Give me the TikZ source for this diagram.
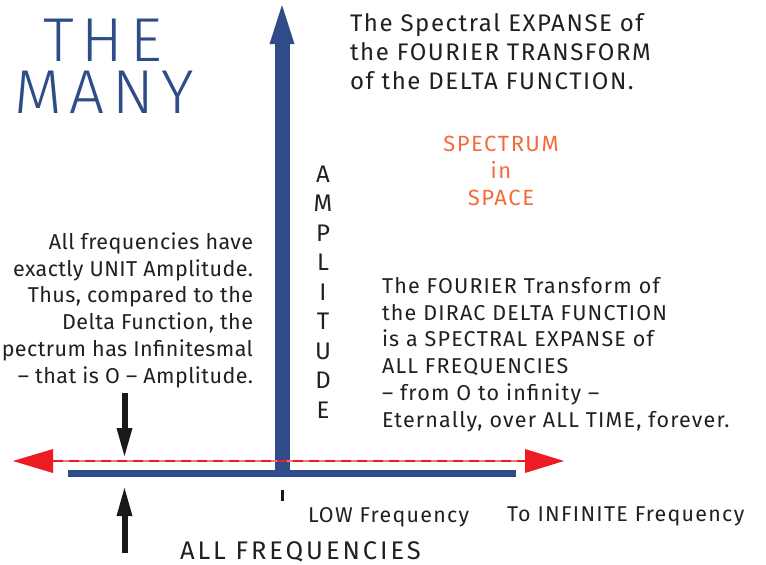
\documentclass[tikz,border=0pt]{standalone}
\usepackage{fontspec}
\setmainfont{Fira Sans}
\newfontfamily\titlefont{Fira Sans}[UprightFont=* Light]
\usetikzlibrary{arrows.meta}
\definecolor{axisblue}{RGB}{46,77,136}
\definecolor{axred}{RGB}{237,28,36}
\definecolor{specorange}{RGB}{242,108,58}
\definecolor{txt}{RGB}{35,31,32}
\newcommand{\trk}[1]{\addfontfeatures{LetterSpace=#1}}
\begin{document}
\begin{tikzpicture}[x=1pt,y=-1pt,
  every node/.style={inner sep=0pt, outer sep=0pt},
  titletext/.style={font=\titlefont\fontsize{62}{62}\selectfont\trk{12}, text=axisblue},
  headtext/.style={font=\fontsize{24}{29}\selectfont\trk{6.5}, text=txt},
  bodytext/.style={font=\fontsize{21.5}{26.7}\selectfont\trk{5.5}, text=txt},
  lefttext/.style={font=\fontsize{21.5}{26.7}\selectfont\trk{2}, text=txt},
  orangetext/.style={font=\fontsize{22}{26.8}\selectfont\trk{7}, text=specorange},
  ampltext/.style={font=\fontsize{24}{29.5}\selectfont, text=txt},
  axistext/.style={font=\fontsize{21.4}{24}\selectfont\trk{6}, text=txt},
  bigtext/.style={font=\fontsize{25.5}{28}\selectfont\trk{11.5}, text=txt},
  bluebar/.style={draw=axisblue, line width=#1},
  blackarrow/.style={draw=black!90, line width=6pt, -{Triangle[width=16pt,length=28pt,line width=0pt]}},
]
\useasboundingbox (0,0) rectangle (766,565);

% axes
\coordinate (ybot) at (282,471);
\coordinate (ytop) at (282,5);
\coordinate (xleft) at (68,473);
\coordinate (xright) at (516,473);
\draw[bluebar=7pt] (xleft) -- (xright);
\draw[bluebar=15pt, -{Triangle[width=25pt,length=39pt,line width=0pt]}] (ybot) -- (ytop);

% red double arrow
\coordinate (rl) at (13,461);
\coordinate (rr) at (564,461);
\coordinate (rdl) at (53,461);
\coordinate (rdr) at (525,461);
\draw[axred!60, line width=1.2pt, {Triangle[width=24pt,length=40pt,line width=0pt,fill=axred]}-{Triangle[width=24pt,length=39pt,line width=0pt,fill=axred]}] (rl) -- (rr);
\draw[axred, line width=2.6pt, dash pattern=on 10pt off 6pt] (rdl) -- (rdr);

% tick
\coordinate (tka) at (282,490);
\coordinate (tkb) at (282,501);
\draw[black!90, line width=3pt] (tka) -- (tkb);

% black arrows
\coordinate (da) at (124.5,393);
\coordinate (db) at (124.5,456);
\coordinate (ua) at (124.5,553);
\coordinate (ub) at (124.5,488);
\draw[blackarrow] (da) -- (db);
\draw[blackarrow] (ua) -- (ub);

% texts
\node[titletext, anchor=base] (the) at (103,61) {THE};
\node[titletext, anchor=base] (many) at (104,113) {MANY};

\node[headtext, anchor=base west, align=left] (expanse) at (350,89)
  {The Spectral EXPANSE of\\the FOURIER TRANSFORM\\of the DELTA FUNCTION.};

\node[orangetext, anchor=base, align=center] (space) at (501,205)
  {SPECTRUM\\in\\SPACE};

\node[ampltext, anchor=base, align=center] (ampl) at (323,418)
  {A\\M\\P\\L\\I\\T\\U\\D\\E};

\node[bodytext, anchor=base west, align=left] (dirac) at (382,427)
  {The FOURIER Transform of\\the DIRAC DELTA FUNCTION\\is a SPECTRAL EXPANSE of\\ALL FREQUENCIES\\– from O to infinity –\\Eternally, over ALL TIME, forever.};

\node[lefttext, anchor=base east, align=right] (unit) at (253,383)
  {All frequencies have\\exactly UNIT Amplitude.\\Thus, compared to the\\Delta Function, the\\pectrum has Infinitesmal\\– that is O – Amplitude.};

\node[axistext, anchor=base west] (low) at (308,522) {LOW Frequency};
\node[axistext, anchor=base west] (inf) at (507,521) {To INFINITE Frequency};
\node[bigtext, anchor=base west] (allf) at (180,559.5) {ALL FREQUENCIES};
\end{tikzpicture}
\end{document}
